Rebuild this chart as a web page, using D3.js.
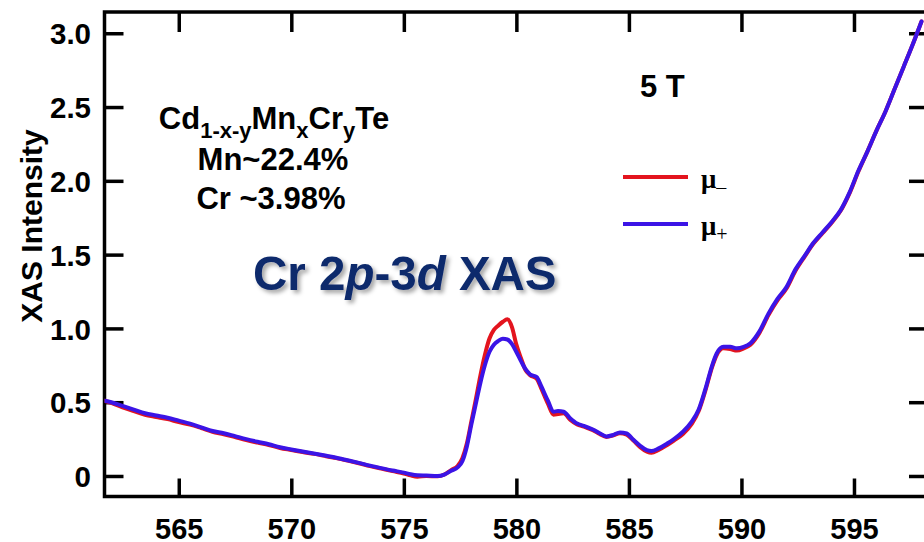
<!DOCTYPE html>
<html>
<head>
<meta charset="utf-8">
<script src="https://cdn.jsdelivr.net/npm/d3@7"></script>
<style>
  body { margin: 0; background: #ffffff; }
  svg { display: block; }
</style>
</head>
<body>
<svg id="chart" width="924" height="542"></svg>
<script>
// Photon energy (eV)
const energy = [
  561.7, 562.0, 562.5, 563.0, 563.5, 564.0, 564.5, 565.0, 565.5, 566.0,
  566.5, 567.0, 567.5, 568.0, 568.5, 569.0, 569.5, 570.0, 570.5, 571.0,
  571.5, 572.0, 572.5, 573.0, 573.5, 574.0, 574.5, 575.0, 575.3, 575.6,
  576.0, 576.5, 576.8, 577.1, 577.4, 577.6, 577.8, 578.0, 578.2, 578.4,
  578.6, 578.8, 579.0, 579.2, 579.4, 579.6, 579.8, 580.0, 580.2, 580.4,
  580.6, 580.9, 581.1, 581.4, 581.65, 581.85, 582.1, 582.4, 582.7, 583.0,
  583.4, 583.7, 584.0, 584.3, 584.6, 584.9, 585.2, 585.5, 585.8, 586.0,
  586.3, 586.7, 587.0, 587.4, 587.8, 588.1, 588.4, 588.7, 588.9, 589.2,
  589.5, 589.8, 590.1, 590.4, 590.8, 591.2, 591.6, 592.0, 592.4, 592.8,
  593.2, 593.6, 594.0, 594.4, 594.8, 595.2, 595.6, 596.0, 596.4, 596.8,
  597.2, 597.6, 598.0
];

// mu- : absorption for one helicity
const muMinus = [
  0.51, 0.495, 0.465, 0.44, 0.415, 0.40, 0.385, 0.365, 0.348, 0.325,
  0.30, 0.283, 0.263, 0.243, 0.226, 0.21, 0.19, 0.176, 0.162, 0.15,
  0.136, 0.121, 0.104, 0.086, 0.067, 0.05, 0.033, 0.017, 0.004, -0.005,
  0.0, -0.002, 0.01, 0.04, 0.07, 0.12, 0.22, 0.37, 0.52, 0.68,
  0.82, 0.93, 0.99, 1.02, 1.045, 1.062, 1.01, 0.89, 0.80, 0.72,
  0.685, 0.66, 0.595, 0.49, 0.415, 0.42, 0.425, 0.38, 0.35, 0.335,
  0.31, 0.285, 0.265, 0.275, 0.29, 0.28, 0.24, 0.195, 0.165, 0.158,
  0.175, 0.21, 0.24, 0.285, 0.355, 0.44, 0.58, 0.74, 0.82, 0.865,
  0.86, 0.85, 0.865, 0.89, 0.97, 1.09, 1.19, 1.27, 1.39, 1.485,
  1.575, 1.645, 1.715, 1.795, 1.915, 2.065, 2.2, 2.34, 2.47, 2.62,
  2.77, 2.92, 3.08
];

// mu+ : absorption for the opposite helicity
const muPlus = [
  0.51, 0.50, 0.475, 0.45, 0.425, 0.41, 0.395, 0.375, 0.355, 0.33,
  0.305, 0.29, 0.27, 0.25, 0.232, 0.215, 0.195, 0.18, 0.166, 0.153,
  0.139, 0.124, 0.107, 0.089, 0.07, 0.053, 0.037, 0.023, 0.012, 0.005,
  0.003, 0.0, 0.01, 0.035, 0.06, 0.10, 0.20, 0.35, 0.49, 0.63,
  0.75, 0.84, 0.89, 0.915, 0.93, 0.925, 0.895, 0.84, 0.78, 0.725,
  0.69, 0.67, 0.61, 0.51, 0.435, 0.44, 0.435, 0.39, 0.355, 0.34,
  0.315, 0.29, 0.268, 0.278, 0.295, 0.288, 0.245, 0.205, 0.175, 0.17,
  0.185, 0.22, 0.25, 0.30, 0.37, 0.45, 0.59, 0.75, 0.83, 0.875,
  0.875, 0.865, 0.875, 0.90, 0.98, 1.10, 1.20, 1.28, 1.40, 1.49,
  1.58, 1.65, 1.72, 1.80, 1.92, 2.07, 2.20, 2.34, 2.47, 2.62,
  2.77, 2.92, 3.08
];

const xTickValues = [565, 570, 575, 580, 585, 590, 595];
const yTickValues = [0, 0.5, 1.0, 1.5, 2.0, 2.5, 3.0];
const yTickLabels = ["0", "0.5", "1.0", "1.5", "2.0", "2.5", "3.0"];

const seriesNames = ["\u03bc", "\u03bc"];
const seriesSubs = ["\u2013", "+"];
const seriesColors = ["#e3141e", "#3b14e6"];

const svg = d3.select("#chart");
const plot = { left: 104.5, right: 926, top: 12, bottom: 496.5 };

const x = d3.scaleLinear().domain([561.7, 598.2]).range([plot.left, plot.right]);
const y = d3.scaleLinear().domain([-0.139, 3.144]).range([plot.bottom, plot.top]);

const axisFont = "'Liberation Sans', Arial, sans-serif";

// drop shadow for the heading
const defs = svg.append("defs");
const shadow = defs.append("filter").attr("id", "shadow")
  .attr("x", "-10%").attr("y", "-20%").attr("width", "130%").attr("height", "160%");
shadow.append("feDropShadow")
  .attr("dx", 3).attr("dy", 3).attr("stdDeviation", 2)
  .attr("flood-color", "#000").attr("flood-opacity", 0.35);

defs.append("clipPath").attr("id", "plotClip")
  .append("rect")
  .attr("x", plot.left).attr("y", plot.top)
  .attr("width", plot.right - plot.left).attr("height", plot.bottom - plot.top);

// axes with inward ticks
function styleAxis(g) {
  g.select(".domain").remove();
  g.selectAll(".tick line").attr("stroke", "#000").attr("stroke-width", 3.5);
}

const xBottom = svg.append("g")
  .attr("transform", `translate(0,${plot.bottom})`)
  .call(d3.axisBottom(x).tickValues(xTickValues).tickSize(-18).tickFormat(d3.format("d")));
styleAxis(xBottom);
xBottom.selectAll(".tick text")
  .attr("y", 42.5).attr("dy", null)
  .attr("font-family", axisFont).attr("font-weight", "bold")
  .attr("font-size", 29).attr("fill", "#000");

const xTop = svg.append("g")
  .attr("transform", `translate(0,${plot.top})`)
  .call(d3.axisTop(x).tickValues(xTickValues).tickSize(-20).tickFormat(""));
styleAxis(xTop);

const yLeft = svg.append("g")
  .attr("transform", `translate(${plot.left},0)`)
  .call(d3.axisLeft(y).tickValues(yTickValues).tickSize(-19)
    .tickFormat((d, i) => yTickLabels[i]));
styleAxis(yLeft);
yLeft.selectAll(".tick text")
  .attr("x", -13.5).attr("dy", "0.36em")
  .attr("font-family", axisFont).attr("font-weight", "bold")
  .attr("font-size", 29.5).attr("fill", "#000");

const yRight = svg.append("g")
  .attr("transform", `translate(${plot.right},0)`)
  .call(d3.axisRight(y).tickValues(yTickValues).tickSize(-17).tickFormat(""));
styleAxis(yRight);

// frame
svg.append("rect")
  .attr("x", plot.left).attr("y", plot.top)
  .attr("width", plot.right - plot.left).attr("height", plot.bottom - plot.top)
  .attr("fill", "none").attr("stroke", "#000").attr("stroke-width", 3.5);

// y-axis title
svg.append("text")
  .attr("transform", "translate(42,226) rotate(-90)")
  .attr("text-anchor", "middle")
  .attr("font-family", axisFont).attr("font-weight", "bold")
  .attr("font-size", 30).attr("fill", "#000")
  .text("XAS Intensity");

// spectra
const line = d3.line()
  .x(d => x(d[0]))
  .y(d => y(d[1]))
  .curve(d3.curveMonotoneX);

const series = [muMinus, muPlus];
svg.append("g").attr("clip-path", "url(#plotClip)")
  .selectAll("path")
  .data(series)
  .join("path")
  .attr("d", s => line(energy.map((e, i) => [e, s[i]])))
  .attr("fill", "none")
  .attr("stroke", (s, i) => seriesColors[i])
  .attr("stroke-width", 4)
  .attr("stroke-linejoin", "round")
  .attr("stroke-linecap", "round");

// sample composition
const comp = svg.append("g")
  .attr("font-family", axisFont).attr("font-weight", "bold").attr("fill", "#000");
const formula = comp.append("text")
  .attr("x", 274).attr("y", 129).attr("text-anchor", "middle").attr("font-size", 31);
formula.append("tspan").text("Cd");
formula.append("tspan").attr("font-size", 22).attr("dy", 9).text("1-x-y");
formula.append("tspan").attr("dy", -9).text("Mn");
formula.append("tspan").attr("font-size", 22).attr("dy", 9).text("x");
formula.append("tspan").attr("dy", -9).text("Cr");
formula.append("tspan").attr("font-size", 22).attr("dy", 9).text("y");
formula.append("tspan").attr("dy", -9).text("Te");
comp.append("text").attr("x", 273).attr("y", 170).attr("text-anchor", "middle")
  .attr("font-size", 31).text("Mn~22.4%");
comp.append("text").attr("x", 271).attr("y", 209).attr("text-anchor", "middle")
  .attr("font-size", 31).text("Cr ~3.98%");

// heading
const heading = svg.append("text")
  .attr("x", 253).attr("y", 290)
  .attr("font-family", axisFont).attr("font-weight", "bold")
  .attr("font-size", 47.5).attr("fill", "#0f2a6c")
  .attr("filter", "url(#shadow)");
heading.append("tspan").text("Cr 2");
heading.append("tspan").attr("font-style", "italic").text("p");
heading.append("tspan").text("-3");
heading.append("tspan").attr("font-style", "italic").text("d");
heading.append("tspan").text(" XAS");

// field label
svg.append("text")
  .attr("x", 640).attr("y", 97)
  .attr("font-family", axisFont).attr("font-weight", "bold")
  .attr("font-size", 31).attr("fill", "#000")
  .text("5 T");

// legend
const legend = svg.append("g");
const legendY = [177, 224];
seriesColors.forEach((c, i) => {
  legend.append("line")
    .attr("x1", 623).attr("x2", 688)
    .attr("y1", legendY[i]).attr("y2", legendY[i])
    .attr("stroke", c).attr("stroke-width", 4);
  const t = legend.append("text")
    .attr("x", 701).attr("y", legendY[i] + 11)
    .attr("font-family", "'Liberation Serif', 'Times New Roman', serif")
    .attr("font-weight", "bold").attr("font-size", 27).attr("fill", "#000");
  t.append("tspan").text(seriesNames[i]);
  t.append("tspan").attr("font-size", 20).attr("font-weight", "normal")
    .attr("dy", 6).text(seriesSubs[i]);
});
</script>
</body>
</html>
